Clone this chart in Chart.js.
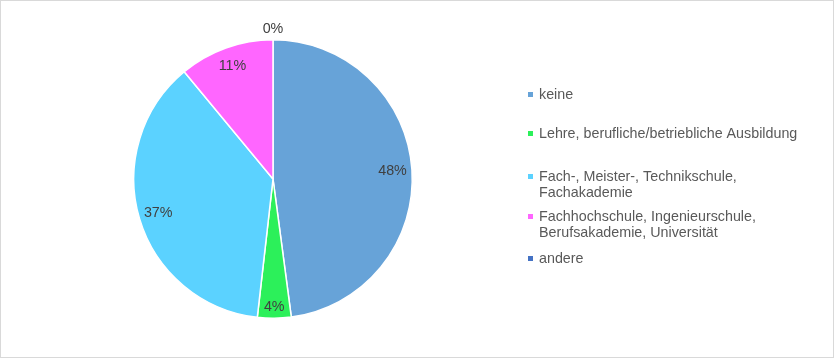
<!DOCTYPE html>
<html><head><meta charset="utf-8">
<script src="https://cdn.jsdelivr.net/npm/chart.js@4"></script>
<style>
html,body{margin:0;padding:0;background:#fff;}
#wrap{position:relative;width:834px;height:358px;box-sizing:border-box;border:1px solid #D9D9D9;}
canvas{position:absolute;left:0;top:0;}
</style></head>
<body><div id="wrap"><canvas id="c" width="834" height="358"></canvas></div>
<script>
const categories = [
  ["keine"],
  ["Lehre, berufliche/betriebliche Ausbildung"],
  ["Fach-, Meister-, Technikschule,", "Fachakademie"],
  ["Fachhochschule, Ingenieurschule,", "Berufsakademie, Universität"],
  ["andere"]
];
const values = [47.9, 3.9, 37.2, 11.0, 0.0];
const percentLabels = ["48%", "4%", "37%", "11%", "0%"];
const colors = ["#67A3D8", "#2CF05A", "#5BD2FF", "#FF66FF", "#4472C4"];
const legendRowsY = [94, 133, 176, 216, 258];

const labelPlugin = {
  id: 'sliceLabels',
  afterDatasetsDraw(chart) {
    const ctx = chart.ctx;
    const meta = chart.getDatasetMeta(0);
    ctx.save();
    ctx.font = '14.3px "Liberation Sans", Arial, sans-serif';
    ctx.fillStyle = '#404040';
    ctx.textAlign = 'center';
    ctx.textBaseline = 'middle';
    meta.data.forEach((arc, i) => {
      const p = arc.getProps(['x','y','startAngle','endAngle','outerRadius'], true);
      const mid = (p.startAngle + p.endAngle) / 2;
      let f = 0.86;
      if (values[i] < 1) f = 1.08;
      else if (values[i] < 6) f = 0.92;
      const r = p.outerRadius * f;
      ctx.fillText(percentLabels[i], p.x + Math.cos(mid) * r, p.y + Math.sin(mid) * r);
    });
    ctx.restore();
  }
};

const legendPlugin = {
  id: 'sideLegend',
  afterDraw(chart) {
    const ctx = chart.ctx;
    ctx.save();
    ctx.font = '14.3px "Liberation Sans", Arial, sans-serif';
    ctx.textBaseline = 'middle';
    ctx.textAlign = 'left';
    categories.forEach((lines, i) => {
      const y = legendRowsY[i];
      ctx.fillStyle = colors[i];
      ctx.fillRect(527, y - 3, 5, 5);
      ctx.fillStyle = '#595959';
      lines.forEach((t, j) => ctx.fillText(t, 538, y + j * 16));
    });
    ctx.restore();
  }
};

new Chart(document.getElementById('c'), {
  type: 'pie',
  data: {
    labels: categories.map(l => l.join(' ')),
    datasets: [{
      data: values,
      backgroundColor: colors,
      borderColor: '#FFFFFF',
      borderWidth: 1.5
    }]
  },
  options: {
    responsive: false,
    animation: false,
    layout: { padding: { left: 132, right: 422, top: 38, bottom: 40 } },
    plugins: { legend: { display: false }, tooltip: { enabled: false } }
  },
  plugins: [labelPlugin, legendPlugin]
});
</script></body></html>
